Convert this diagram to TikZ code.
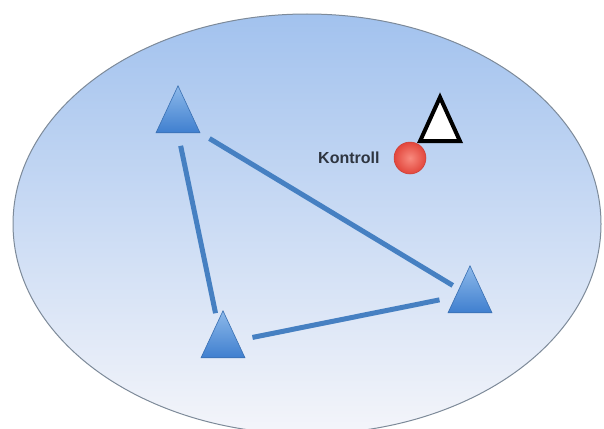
\documentclass[tikz,border=0pt]{standalone}
\usepackage{fontspec}
\setmainfont{Liberation Sans}
\usepackage{tikz}
\usetikzlibrary{positioning,shapes.geometric,calc}
\definecolor{areatop}{HTML}{A2C2EE}
\definecolor{areabottom}{HTML}{F4F5FA}
\definecolor{areaedge}{HTML}{7D8A99}
\definecolor{tritop}{HTML}{8DB9EA}
\definecolor{tribottom}{HTML}{3F7FCF}
\definecolor{triedge}{HTML}{3A70B2}
\definecolor{linkblue}{HTML}{4680C2}
\definecolor{dotin}{HTML}{F88A7E}
\definecolor{dotout}{HTML}{E2463C}
\definecolor{textgray}{HTML}{2E3540}

\begin{document}
\begin{tikzpicture}[x=1pt, y=-1pt,
areanode/.style={ellipse, draw=areaedge, line width=1pt, top color=areatop, bottom color=areabottom, minimum width=588pt, minimum height=420pt, inner sep=0pt},
trinode/.style={isosceles triangle, isosceles triangle stretches, shape border rotate=90, draw=triedge, line width=0.6pt, top color=tritop, bottom color=tribottom, minimum width=44pt, minimum height=47pt, inner sep=0pt, anchor=apex},
marknode/.style={isosceles triangle, isosceles triangle stretches, shape border rotate=90, draw=black, line width=4pt, fill=white, minimum width=40pt, minimum height=44pt, inner sep=0pt, anchor=apex},
dotnode/.style={circle, draw=dotout!90!black, line width=0.5pt, inner color=dotin, outer color=dotout, minimum size=32pt, inner sep=0pt},
textnode/.style={font=\fontsize{16}{16}\selectfont\bfseries, text=textgray, inner sep=0pt},
link/.style={draw=linkblue, line width=5pt}
]
    \useasboundingbox (0,0) rectangle (604,428);
    %Nodes
    \node[areanode] (area) at (307,224) {};
    \node[trinode] (t1) at (178,85)  {};
    \node[trinode] (t2) at (223,310) {};
    \node[trinode] (t3) at (470,265) {};
    \node[marknode] (mark) at (440,92) {};
    \node[dotnode] (ctrl) at (410,158) {};
    \node[textnode] (ctrltext) [left=14pt of ctrl] {Kontroll};

    %Lines
    \draw[link, shorten <=13pt, shorten >=9pt]
        (t1.lower side) -- ($(t2.apex)!0.25!(t2.left corner)$);
    \draw[link, shorten <=10.5pt, shorten >=7pt]
        (t1.right corner) -- (t3.left side);
    \draw[link, shorten <=15.5pt, shorten >=16pt]
        ($(t2.apex)!0.634!(t2.right corner)$) -- ($(t3.apex)!0.66!(t3.left corner)$);
\end{tikzpicture}
\end{document}
